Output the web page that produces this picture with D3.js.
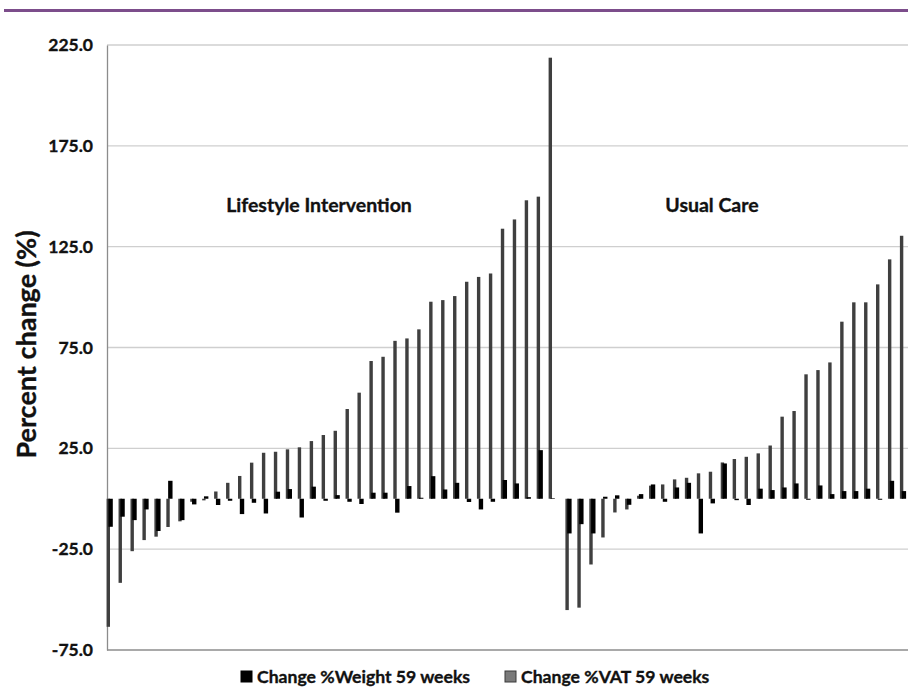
<!DOCTYPE html>
<html>
<head>
<meta charset="utf-8">
<script src="https://cdn.jsdelivr.net/npm/d3@7"></script>
<style>
  html, body { margin: 0; padding: 0; background: #fff; }
  svg { display: block; font-family: Lato, "Open Sans", sans-serif; }
  .lbl { font-weight: bold; fill: #111; stroke: #111; stroke-width: 0.35px; }
</style>
</head>
<body>
<svg id="chart" width="908" height="692"></svg>
<script>
// values, sorted by VAT change inside each group
const lifestyleVat = [-63.5, -41.7, -26, -20.5, -18.8, -14, -11.2, -1.5, -0.8, 3.6,
  7.9, 11.3, 17.9, 22.8, 23.3, 24.5, 25.5, 28.6, 31.6, 33.7,
  44.5, 52.6, 68.3, 70.4, 78.3, 79.5, 84, 97.7, 98.5, 100.5,
  107.6, 110, 111.7, 133.9, 138.5, 148, 149.8, 218.7];
const lifestyleWeight = [-13.9, -8.9, -10.6, -5.3, -16, 8.9, -10.6, -2.8, 1.2, -3.1,
  -1, -7.6, -2, -7.3, 3.5, 4.8, -9.3, 6, -1, 1.8,
  -1.5, -2.6, 3, 3, -6.9, 6.3, 0.5, 11.2, 4.6, 7.9,
  -1.6, -5.3, -1.5, 9.3, 7.6, 0.8, 24.1, 0.3];
const usualVat = [-55.2, -54, -32.6, -19.2, -6.8, -5.3, 1.5, 6.5, 7.1, 9.6,
  10.4, 12.6, 13.4, 18, 19.7, 20.8, 22.5, 26.4, 40.7, 43.5,
  61.7, 63.8, 67.6, 87.8, 97.4, 97.4, 106.3, 118.7, 130.4];
const usualWeight = [-17.2, -12.6, -17.2, 1, 1.7, -3, 2.3, 7.1, -1.5, 5.6,
  7.9, -17.2, -2.3, 17.5, -0.7, -3.1, 5, 4.3, 5.6, 7.6,
  -0.5, 6.6, 2.3, 3.8, 3.8, 5, -0.5, 8.9, 3.8];
const groupLabels = ["Lifestyle Intervention", "Usual Care"];
const seriesLabels = ["Change %Weight 59 weeks", "Change %VAT 59 weeks"];
const yTicks = [225, 175, 125, 75, 25, -25, -75];

const svg = d3.select("#chart");
const plot = { left: 107, right: 908, top: 45, bottom: 650 };
const groupGap = 1.406; // usual care starts a bit further than one slot away

// one row per subject, position index along the x axis
const rows = [];
lifestyleVat.forEach((v, i) => rows.push({ pos: i, vat: v, weight: lifestyleWeight[i] }));
usualVat.forEach((v, j) => rows.push({ pos: lifestyleVat.length - 1 + groupGap + j, vat: v, weight: usualWeight[j] }));

const x = d3.scaleLinear()
  .domain([0, d3.max(rows, d => d.pos)])
  .range([108.3, 901.6]);
const y = d3.scaleLinear().domain([-75, 225]).range([plot.bottom, plot.top]);

// purple rule at the top of the figure
svg.append("rect").attr("x", 4).attr("y", 9).attr("width", 904).attr("height", 3).attr("fill", "#7c4d8b");

// gridlines
svg.append("g").selectAll("line").data(yTicks).enter().append("line")
  .attr("x1", plot.left).attr("x2", plot.right)
  .attr("y1", d => y(d)).attr("y2", d => y(d))
  .attr("stroke", d => d === -75 ? "#8c8c8c" : "#cfcfcf")
  .attr("stroke-width", 1.3);

// y axis (plain hyphen for negatives, like the original)
const yAxis = d3.axisLeft(y).tickValues(yTicks).tickSize(0).tickPadding(14).tickFormat(d => d.toFixed(1));
const ax = svg.append("g").attr("transform", `translate(${plot.left},0)`).call(yAxis);
ax.select(".domain").attr("stroke", "#8c8c8c").attr("stroke-width", 1.3);
ax.selectAll("text").attr("class", "lbl").attr("font-size", 17.5)
  .attr("font-family", "Lato, sans-serif");

svg.append("text")
  .attr("class", "lbl")
  .attr("transform", `translate(36,${(plot.top + plot.bottom) / 2 - 3}) rotate(-90)`)
  .attr("text-anchor", "middle")
  .attr("font-size", 27)
  .text("Percent change (%)");

// bars: gray VAT then black weight drawn over it
const bars = svg.append("g");
bars.selectAll("rect.vat").data(rows).enter().append("rect")
  .attr("class", "vat")
  .attr("x", d => x(d.pos) - 1.7)
  .attr("width", 3.4)
  .attr("y", d => y(Math.max(0, d.vat)))
  .attr("height", d => Math.abs(y(d.vat) - y(0)))
  .attr("fill", "#3f3f3f");
bars.selectAll("rect.wt").data(rows).enter().append("rect")
  .attr("class", "wt")
  .attr("x", d => x(d.pos) + 0.1)
  .attr("width", 4.4)
  .attr("y", d => y(Math.max(0, d.weight)))
  .attr("height", d => Math.abs(y(d.weight) - y(0)))
  .attr("fill", "#000");

// group titles
svg.append("g").selectAll("text").data(groupLabels).enter().append("text")
  .attr("class", "lbl")
  .attr("x", (d, i) => i === 0 ? 319 : 712)
  .attr("y", 212)
  .attr("text-anchor", "middle")
  .attr("font-size", 19.5)
  .text(d => d);

// legend
const legend = svg.append("g").selectAll("g").data(seriesLabels).enter().append("g")
  .attr("transform", (d, i) => `translate(${i === 0 ? 241 : 505},671)`);
legend.append("rect")
  .attr("width", 11).attr("height", 11)
  .attr("fill", (d, i) => i === 0 ? "#000" : "#7a7a7a")
  .attr("stroke", (d, i) => i === 0 ? "#000" : "#3a3a3a").attr("stroke-width", 1);
legend.append("text")
  .attr("class", "lbl")
  .attr("x", 16).attr("y", 11.5)
  .attr("font-size", 17.6)
  .text(d => d);
</script>
</body>
</html>
